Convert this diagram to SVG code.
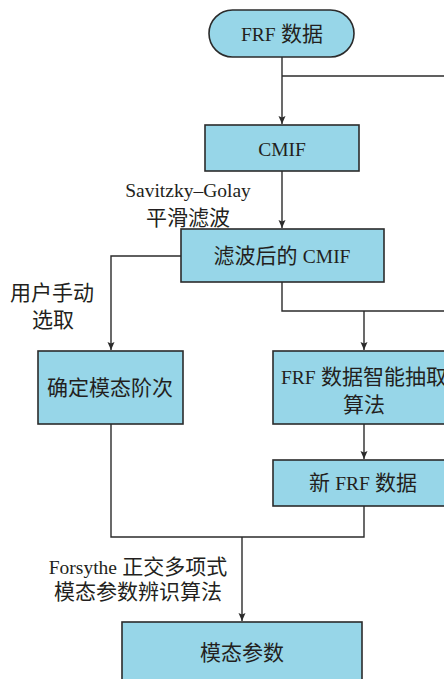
<svg xmlns="http://www.w3.org/2000/svg" width="444" height="679" viewBox="0 0 444 679">
  <style>
    .box { fill: #97d6e8; stroke: #2b2b2b; stroke-width: 1.6; }
    .wire { fill: none; stroke: #2b2b2b; stroke-width: 1.4; }
    .t { font-family: "Liberation Serif", "Noto Sans CJK SC", serif; font-size: 21px; fill: #231f20; text-anchor: middle; dominant-baseline: central; }
    .lat { font-size: 19.5px; }
  </style>
  <defs>
    <marker id="arrow" markerWidth="10" markerHeight="10" refX="9" refY="5" orient="auto" markerUnits="userSpaceOnUse">
      <path d="M1,1.5 L9,5 L1,8.5 L2.5,5 Z" fill="#2b2b2b"/>
    </marker>
  </defs>
  <rect width="444" height="679" fill="#ffffff"/>

  <!-- connectors -->
  <g id="connectors">
    <path class="wire" d="M282,57 V124" marker-end="url(#arrow)"/>
    <path class="wire" d="M282,76 H444"/>
    <path class="wire" d="M282,171 V228" marker-end="url(#arrow)"/>
    <path class="wire" d="M181,256 H111 V350" marker-end="url(#arrow)"/>
    <path class="wire" d="M282,282 V311 H444"/>
    <path class="wire" d="M364,311 V350" marker-end="url(#arrow)"/>
    <path class="wire" d="M364,424 V459" marker-end="url(#arrow)"/>
    <path class="wire" d="M111,424 V537 H364 V506"/>
    <path class="wire" d="M242,537 V621" marker-end="url(#arrow)"/>
  </g>

  <!-- edge labels -->
  <g id="labels">
    <text class="t lat" x="188" y="190">Savitzky–Golay</text>
    <text class="t" x="188" y="218">平滑滤波</text>
    <text class="t" x="52" y="293">用户手动</text>
    <text class="t" x="53" y="320">选取</text>
    <text class="t" x="138" y="567"><tspan class="lat">Forsythe</tspan> 正交多项式</text>
    <text class="t" x="138" y="592">模态参数辨识算法</text>
  </g>

  <g id="frf-data">
    <rect class="box" x="209" y="10" width="145" height="47" rx="23.5"/>
    <text class="t" x="282" y="34"><tspan class="lat">FRF</tspan> 数据</text>
  </g>
  <g id="cmif">
    <rect class="box" x="205" y="125" width="154" height="46"/>
    <text class="t lat" x="282" y="149">CMIF</text>
  </g>
  <g id="filtered-cmif">
    <rect class="box" x="181" y="229" width="203" height="53"/>
    <text class="t" x="282" y="256">滤波后的 <tspan class="lat">CMIF</tspan></text>
  </g>
  <g id="mode-order">
    <rect class="box" x="38" y="351" width="145" height="73"/>
    <text class="t" x="110" y="388">确定模态阶次</text>
  </g>
  <g id="extract">
    <rect class="box" x="273" y="351" width="190" height="73"/>
    <text class="t" x="364" y="377"><tspan class="lat">FRF</tspan> 数据智能抽取</text>
    <text class="t" x="364" y="405">算法</text>
  </g>
  <g id="new-frf">
    <rect class="box" x="273" y="460" width="190" height="46"/>
    <text class="t" x="363" y="483">新 <tspan class="lat">FRF</tspan> 数据</text>
  </g>
  <g id="modal-params">
    <rect class="box" x="122" y="622" width="240" height="70"/>
    <text class="t" x="242" y="653">模态参数</text>
  </g>
</svg>
